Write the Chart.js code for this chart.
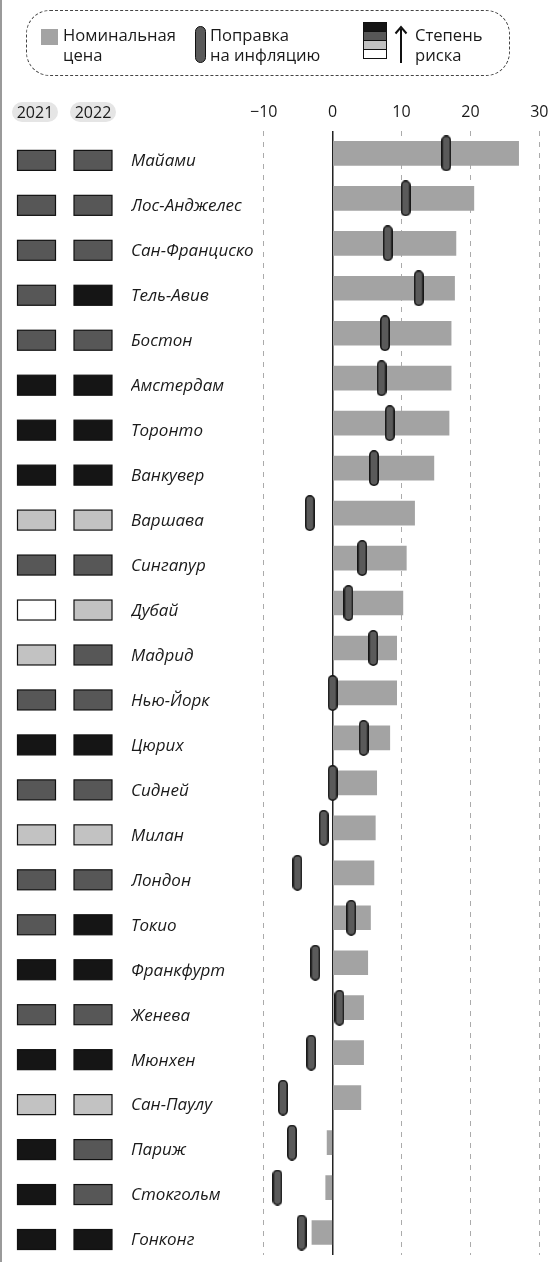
<!DOCTYPE html>
<html lang="ru">
<head>
<meta charset="UTF-8">
<title>Цены на жильё в городах мира</title>
<script src="https://cdn.jsdelivr.net/npm/chart.js"></script>
<style>
  body { margin: 0; background: #fff; font-family: "Open Sans", sans-serif; color: #1a1a1a; }
  #page { position: relative; width: 549px; height: 1262px; overflow: hidden; }
  #edge { position: absolute; left: 0; top: 0; width: 2px; height: 100%; background: #9a9a9a; z-index: 2; }
  #legendBox { position: absolute; left: 26px; top: 10px; width: 484px; height: 66px; box-sizing: border-box;
               border: 1.3px dashed #444; border-radius: 24px; }
  .lgText { position: absolute; top: 25px; font-size: 16.6px; line-height: 20px; z-index: 2; }
  #swNominal { position: absolute; left: 41px; top: 29px; width: 17px; height: 16px; background: #a3a3a3; }
  #swAdjusted { position: absolute; left: 195px; top: 26px; width: 11px; height: 37px; box-sizing: border-box;
                background: #5a5a5a; border: 1.5px solid #111; border-radius: 6px; }
  #swRisk { position: absolute; left: 363px; top: 23px; width: 24px; }
  #swRisk div { height: 10px; box-sizing: border-box; border: 1.2px solid #111; margin-top: -1px; }
  #arrow { position: absolute; left: 394px; top: 24px; }
  .year { position: absolute; top: 102px; height: 20px; width: 46px; border-radius: 10px; background: #e5e5e5;
          font-size: 16px; line-height: 20px; text-align: center; z-index: 2; }
  #chartBox { position: absolute; left: 0; top: 0; width: 549px; height: 1262px; }
</style>
</head>
<body>
<div id="page">
  <div id="edge"></div>
  <div id="legendBox"></div>
  <div id="swNominal"></div>
  <div class="lgText" style="left:63px">Номинальная<br>цена</div>
  <div id="swAdjusted"></div>
  <div class="lgText" style="left:210px">Поправка<br>на инфляцию</div>
  <div id="swRisk">
    <div style="background:#151515"></div>
    <div style="background:#575757"></div>
    <div style="background:#c2c2c2"></div>
    <div style="background:#fff"></div>
  </div>
  <svg id="arrow" width="14" height="40">
    <line x1="7" y1="5" x2="7" y2="39" stroke="#111" stroke-width="2"/>
    <path d="M1.5 9.5 L7 3 L12.5 9.5" fill="none" stroke="#111" stroke-width="2"/>
  </svg>
  <div class="lgText" style="left:415px">Степень<br>риска</div>
  <div class="year" style="left:12px">2021</div>
  <div class="year" style="left:70px">2022</div>
  <div id="chartBox"><canvas id="prices"></canvas></div>
</div>

<script>
const cities = ['Майами', 'Лос-Анджелес', 'Сан-Франциско', 'Тель-Авив', 'Бостон', 'Амстердам',
  'Торонто', 'Ванкувер', 'Варшава', 'Сингапур', 'Дубай', 'Мадрид', 'Нью-Йорк', 'Цюрих',
  'Сидней', 'Милан', 'Лондон', 'Токио', 'Франкфурт', 'Женева', 'Мюнхен', 'Сан-Паулу',
  'Париж', 'Стокгольм', 'Гонконг'];

// nominal price change, %
const nominal = [27.0, 20.5, 17.9, 17.7, 17.2, 17.2, 16.9, 14.7, 11.9, 10.7, 10.2, 9.3, 9.3,
  8.3, 6.4, 6.2, 6.0, 5.5, 5.1, 4.5, 4.5, 4.1, -0.8, -1.0, -3.0];

// inflation-adjusted change, %
const adjusted = [16.5, 10.6, 8.0, 12.5, 7.6, 7.1, 8.3, 6.0, -3.3, 4.3, 2.3, 5.9, 0.0,
  4.5, 0.0, -1.3, -5.1, 2.7, -2.5, 1.0, -3.1, -7.2, -5.9, -8.0, -4.5];

// bubble risk level: 0 low .. 3 high
const risk2021 = [2, 2, 2, 2, 2, 3, 3, 3, 1, 2, 0, 1, 2, 3, 2, 1, 2, 2, 3, 2, 3, 1, 3, 3, 3];
const risk2022 = [2, 2, 2, 3, 2, 3, 3, 3, 1, 2, 1, 2, 2, 3, 2, 1, 2, 3, 3, 2, 3, 1, 2, 2, 3];

const xTicks = [-10, 0, 10, 20, 30];
const riskColors = ['#ffffff', '#c2c2c2', '#575757', '#151515'];

// rounded capsule used as the point style for the adjusted values
function capsule(w, h) {
  const c = document.createElement('canvas');
  c.width = w; c.height = h;
  const g = c.getContext('2d');
  g.beginPath();
  g.roundRect(0.8, 0.8, w - 1.6, h - 1.6, (w - 1.6) / 2);
  g.fillStyle = '#5a5a5a';
  g.fill();
  g.lineWidth = 1.5;
  g.strokeStyle = '#111';
  g.stroke();
  return c;
}

// two columns of risk cells, one per year, lined up with the city rows
const riskCells = {
  id: 'riskCells',
  afterDraw(chart) {
    const ctx = chart.ctx;
    const y = chart.scales.y;
    ctx.save();
    ctx.lineWidth = 1.2;
    ctx.strokeStyle = '#111';
    cities.forEach((c, i) => {
      const yc = y.getPixelForValue(i) + 7;
      [risk2021[i], risk2022[i]].forEach((lvl, k) => {
        const x = k === 0 ? 17.5 : 74;
        ctx.fillStyle = riskColors[lvl];
        ctx.fillRect(x, yc - 10, 38, 20);
        ctx.strokeRect(x, yc - 10, 38, 20);
      });
    });
    ctx.restore();
  }
};

new Chart(document.getElementById('prices'), {
  type: 'bar',
  data: {
    labels: cities,
    datasets: [
      {
        label: 'Поправка на инфляцию',
        type: 'line',
        indexAxis: 'y',
        data: adjusted,
        showLine: false,
        pointStyle: capsule(10, 36),
        pointRadius: 6,
        order: 0
      },
      {
        label: 'Номинальная цена',
        indexAxis: 'y',
        data: nominal,
        backgroundColor: '#a3a3a3',
        borderWidth: 0,
        barThickness: 24,
        order: 1
      }
    ]
  },
  options: {
    indexAxis: 'y',
    responsive: true,
    maintainAspectRatio: false,
    animation: false,
    layout: { padding: { top: 93.7, bottom: 3.6, left: 131, right: 9.7 } },
    plugins: { legend: { display: false }, tooltip: { enabled: false } },
    scales: {
      x: {
        position: 'top',
        min: -10,
        max: 30,
        afterBuildTicks: (s) => { s.ticks = xTicks.map(v => ({ value: v })); },
        afterFit: (s) => { s.paddingLeft = 0; s.paddingRight = 0; },
        ticks: {
          padding: 9,
          color: '#1a1a1a',
          font: { family: 'Open Sans', size: 16 },
          callback: (v) => v < 0 ? '\u2212' + Math.abs(v) : String(v)
        },
        grid: {
          drawTicks: false,
          color: (c) => c.tick && c.tick.value === 0 ? '#222' : '#ababab',
          lineWidth: (c) => c.tick && c.tick.value === 0 ? 1.5 : 1
        },
        border: {
          display: false,
          dash: (c) => c.tick && c.tick.value === 0 ? [] : [5, 6]
        }
      },
      y: {
        afterFit: (s) => { s.width = 132.7; s.paddingTop = 0; s.paddingBottom = 0; },
        grid: { display: false },
        border: { display: false },
        ticks: {
          crossAlign: 'far',
          labelOffset: 8,
          color: '#1a1a1a',
          font: { family: 'Open Sans', size: 17, style: 'italic' }
        }
      }
    }
  },
  plugins: [riskCells]
});
</script>
</body>
</html>
